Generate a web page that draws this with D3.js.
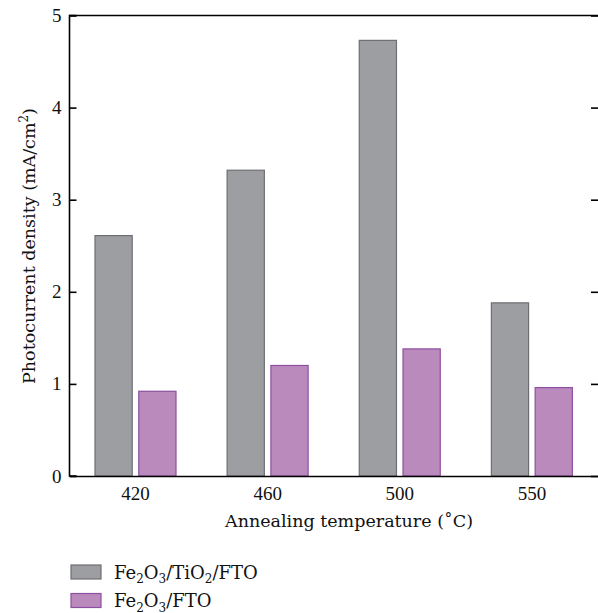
<!DOCTYPE html>
<html>
<head>
<meta charset="utf-8">
<script src="https://cdn.jsdelivr.net/npm/d3@7"></script>
<style>
body { margin: 0; background: #fff; }
text { font-family: "Liberation Serif", "DejaVu Serif", serif; fill: #111; }
.title { font-family: "DejaVu Serif", serif; }
</style>
</head>
<body>
<svg id="chart" width="598" height="613"></svg>
<script>
let temps = ["420", "460", "500", "550"];
let tio2Values = [2.61, 3.32, 4.73, 1.88];   // Fe2O3/TiO2/FTO
let ftoValues = [0.92, 1.20, 1.38, 0.96];    // Fe2O3/FTO
let yTicks = [0, 1, 2, 3, 4, 5];
let seriesNames = ["tio2", "fto"];

let fills = { tio2: "#9d9ea2", fto: "#bb8abd" };
let strokes = { tio2: "#6e6e72", fto: "#8d4f9f" };

let svg = d3.select("#chart");
let pLeft = 69.5, pRight = 598, pTop = 15.5, pBottom = 476;

let x = d3.scaleBand().domain(temps).range([pLeft, pRight]).paddingInner(0).paddingOuter(0);
let x1 = d3.scaleBand().domain(seriesNames).range([25.5, 106.5]).paddingInner(0.15);
let y = d3.scaleLinear().domain([0, 5]).range([pBottom, pTop]);

let rows = temps.map((t, i) => ({ t: t, tio2: tio2Values[i], fto: ftoValues[i] }));

// bars
let groups = svg.append("g").selectAll("g")
	.data(rows)
	.enter().append("g")
	.attr("transform", d => "translate(" + x(d.t) + ",0)");

groups.selectAll("rect")
	.data(d => seriesNames.map(k => ({ k: k, v: d[k] })))
	.enter().append("rect")
	.attr("x", d => x1(d.k))
	.attr("y", d => y(d.v))
	.attr("width", x1.bandwidth())
	.attr("height", d => pBottom - y(d.v))
	.style("fill", d => fills[d.k])
	.style("stroke", d => strokes[d.k])
	.style("stroke-width", 1.2);

// left axis, ticks inside
let yAxis = svg.append("g")
	.attr("transform", "translate(" + pLeft + ",0)")
	.call(d3.axisLeft(y).tickValues(yTicks).tickSize(-7).tickPadding(8).tickFormat(d3.format("d")));
yAxis.select(".domain").attr("d", "M7," + pTop + "H0V" + pBottom + "H7").style("stroke-width", 1.6);
yAxis.selectAll(".tick line").style("stroke-width", 1.6);
yAxis.selectAll(".tick text").style("font-size", "19px").style("font-family", "Liberation Serif, serif");

// right ticks
let yAxisR = svg.append("g")
	.attr("transform", "translate(" + pRight + ",0)")
	.call(d3.axisRight(y).tickValues(yTicks).tickSize(-7).tickFormat(""));
yAxisR.select(".domain").remove();
yAxisR.selectAll(".tick line").style("stroke-width", 1.6);

// top and bottom lines
svg.append("line").attr("x1", pLeft).attr("x2", pRight).attr("y1", pTop).attr("y2", pTop)
	.style("stroke", "#000").style("stroke-width", 1.6);
let xAxis = svg.append("g")
	.attr("transform", "translate(0," + pBottom + ")")
	.call(d3.axisBottom(x).tickSize(0).tickPadding(11));
xAxis.select(".domain").style("stroke-width", 1.6);
xAxis.selectAll(".tick text").style("font-size", "19px").style("font-family", "Liberation Serif, serif");

// axis titles
svg.append("text")
	.attr("class", "title")
	.attr("x", 349).attr("y", 527)
	.attr("text-anchor", "middle")
	.style("font-size", "17.5px")
	.text("Annealing temperature (˚C)");

let yl = svg.append("text")
	.attr("class", "title")
	.attr("transform", "translate(35,246) rotate(-90)")
	.attr("text-anchor", "middle")
	.style("font-size", "17.5px");
yl.append("tspan").text("Photocurrent density (mA/cm");
yl.append("tspan").attr("dy", -7).style("font-size", "12px").text("2");
yl.append("tspan").attr("dy", 7).text(")");

// legend
let legendItems = [
	{ k: "tio2", parts: [["Fe", 0], ["2", 1], ["O", 0], ["3", 1], ["/TiO", 0], ["2", 1], ["/FTO", 0]] },
	{ k: "fto", parts: [["Fe", 0], ["2", 1], ["O", 0], ["3", 1], ["/FTO", 0]] }
];
let lg = svg.append("g").selectAll("g")
	.data(legendItems)
	.enter().append("g")
	.attr("transform", (d, i) => "translate(71," + (565 + i * 28.5) + ")");
lg.append("rect")
	.attr("x", 0).attr("y", 0).attr("width", 30).attr("height", 14)
	.style("fill", d => fills[d.k])
	.style("stroke", d => strokes[d.k])
	.style("stroke-width", 1.2);
lg.each(function(d) {
	let t = d3.select(this).append("text")
		.attr("class", "title")
		.attr("x", 43).attr("y", 13.5)
		.style("font-size", "18px");
	let prevSub = 0;
	d.parts.forEach(p => {
		let dy = (p[1] - prevSub) * 4.5;
		t.append("tspan")
			.attr("dy", dy)
			.style("font-size", p[1] ? "12px" : "18px")
			.text(p[0]);
		prevSub = p[1];
	});
});
</script>
</body>
</html>
